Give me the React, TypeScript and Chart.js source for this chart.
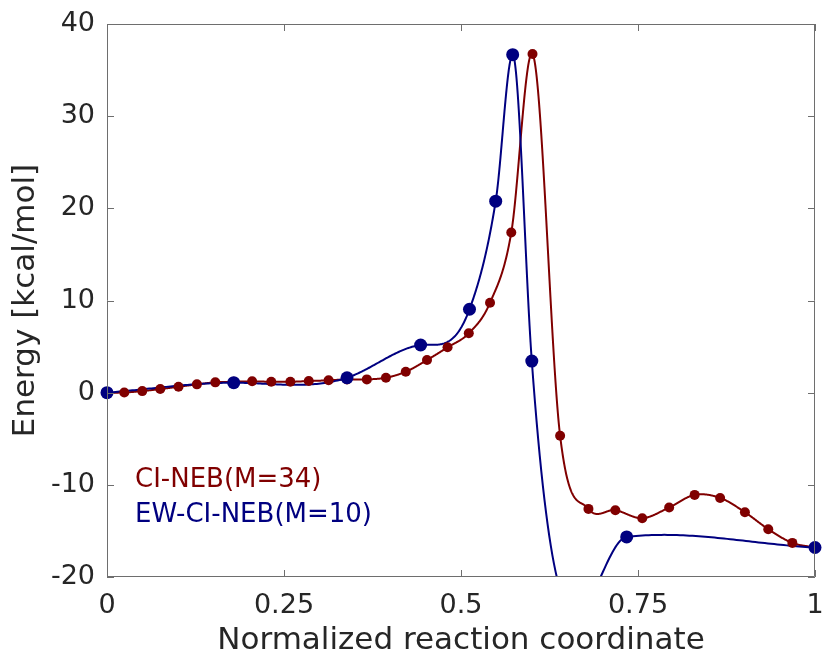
import React, { useEffect, useRef } from 'react';
import { Chart, registerables } from 'chart.js';

Chart.register(...registerables);

// ---- data ----
const ciNebX = [0, 0.0244, 0.0498, 0.0752, 0.101, 0.127, 0.153, 0.179, 0.205, 0.232, 0.259, 0.285, 0.313, 0.339, 0.367, 0.394, 0.422, 0.452, 0.481, 0.511, 0.541, 0.571, 0.601, 0.64, 0.68, 0.718, 0.756, 0.794, 0.83, 0.866, 0.901, 0.934, 0.968, 1.0];
const ciNebE = [0, 0.02, 0.17, 0.39, 0.64, 0.9, 1.12, 1.18, 1.23, 1.18, 1.18, 1.26, 1.34, 1.44, 1.44, 1.62, 2.27, 3.54, 4.92, 6.44, 9.76, 17.37, 36.74, -4.68, -12.61, -12.75, -13.62, -12.46, -11.09, -11.42, -12.97, -14.81, -16.3, -16.8];
const ewNebX = [0, 0.179, 0.339, 0.443, 0.512, 0.549, 0.573, 0.6, 0.734, 1.0];
const ewNebE = [0, 1.08, 1.62, 5.17, 9.05, 20.78, 36.67, 3.43, -15.65, -16.8];
// curve slopes dE/dx at the EW-CI-NEB images
const ewNebSlope = [6, 0, 25, 10, 210, 480, 0, -1050, 9, -4];
const xTicks = [0, 0.25, 0.5, 0.75, 1];
const yTicks = [-20, -10, 0, 10, 20, 30, 40];
const seriesLabels = ['CI-NEB(M=34)', 'EW-CI-NEB(M=10)'];
const seriesColors = ['#800000', '#000080'];
const xTitle = 'Normalized reaction coordinate';
const yTitle = 'Energy [kcal/mol]';

const FONT = '"DejaVu Sans", sans-serif';
const TEXT = '#262626';
const AXIS = '#6e6e6e';

// tangents for a cubic Hermite curve: given slopes, else three-point parabolic estimate
function tangents(xs: number[], ys: number[], given?: number[]): number[] {
  if (given) return given.slice();
  const n = xs.length;
  const h = xs.slice(1).map((v, i) => v - xs[i]);
  const d = h.map((hv, i) => (ys[i + 1] - ys[i]) / hv);
  const m = new Array(n).fill(0);
  m[0] = d[0];
  m[n - 1] = d[n - 2];
  for (let i = 1; i < n - 1; i++) {
    m[i] = (h[i] * d[i - 1] + h[i - 1] * d[i]) / (h[i - 1] + h[i]);
  }
  return m;
}

const curvePlugin = {
  id: 'smoothCurves',
  beforeDatasetsDraw(chart: any) {
    const { ctx, chartArea, scales } = chart;
    const xs = scales.x, ys = scales.y;
    ctx.save();
    ctx.beginPath();
    ctx.rect(chartArea.left, chartArea.top, chartArea.right - chartArea.left, chartArea.bottom - chartArea.top);
    ctx.clip();
    chart.data.datasets.forEach((ds: any) => {
      const px = ds.data.map((p: any) => p.x);
      const py = ds.data.map((p: any) => p.y);
      const m = tangents(px, py, ds.slopes);
      ctx.beginPath();
      ctx.strokeStyle = ds.borderColor;
      ctx.lineWidth = 2;
      ctx.lineJoin = 'round';
      let first = true;
      for (let i = 0; i < px.length - 1; i++) {
        const h = px[i + 1] - px[i];
        const steps = 60;
        for (let s = 0; s <= steps; s++) {
          const t = s / steps;
          const t2 = t * t, t3 = t2 * t;
          const h00 = 2 * t3 - 3 * t2 + 1;
          const h10 = t3 - 2 * t2 + t;
          const h01 = -2 * t3 + 3 * t2;
          const h11 = t3 - t2;
          const yv = h00 * py[i] + h10 * h * m[i] + h01 * py[i + 1] + h11 * h * m[i + 1];
          const X = xs.getPixelForValue(px[i] + h * t);
          const Y = ys.getPixelForValue(yv);
          if (first) { ctx.moveTo(X, Y); first = false; } else ctx.lineTo(X, Y);
        }
      }
      ctx.stroke();
    });
    ctx.restore();
  },
};

const framePlugin = {
  id: 'frame',
  afterDraw(chart: any) {
    const { ctx, chartArea: a, scales } = chart;
    ctx.save();
    ctx.strokeStyle = AXIS;
    ctx.lineWidth = 1;
    ctx.beginPath();
    ctx.rect(a.left + 0.5, a.top + 0.5, a.right - a.left - 1, a.bottom - a.top - 1);
    const tl = 7;
    xTicks.forEach((v) => {
      const X = Math.round(scales.x.getPixelForValue(v)) + 0.5;
      ctx.moveTo(X, a.bottom); ctx.lineTo(X, a.bottom - tl);
      ctx.moveTo(X, a.top); ctx.lineTo(X, a.top + tl);
    });
    yTicks.forEach((v) => {
      const Y = Math.round(scales.y.getPixelForValue(v)) + 0.5;
      ctx.moveTo(a.left, Y); ctx.lineTo(a.left + tl, Y);
      ctx.moveTo(a.right, Y); ctx.lineTo(a.right - tl, Y);
    });
    ctx.stroke();
    // series labels
    ctx.font = `26px ${FONT}`;
    ctx.textBaseline = 'alphabetic';
    ctx.textAlign = 'left';
    seriesLabels.forEach((t, i) => {
      ctx.fillStyle = seriesColors[i];
      ctx.fillText(t, a.left + 28, a.bottom - 90 + i * 35);
    });
    ctx.restore();
  },
};

export default function App() {
  const ref = useRef<HTMLCanvasElement>(null);
  useEffect(() => {
    if (!ref.current) return;
    const chart = new Chart(ref.current, {
      type: 'scatter',
      data: {
        datasets: [
          {
            label: seriesLabels[0],
            data: ciNebX.map((x, i) => ({ x, y: ciNebE[i] })),
            borderColor: seriesColors[0],
            backgroundColor: seriesColors[0],
            pointRadius: 5,
            pointBorderWidth: 0,
            showLine: false,
            clip: false as any,
            order: 0,
          },
          {
            label: seriesLabels[1],
            data: ewNebX.map((x, i) => ({ x, y: ewNebE[i] })),
            slopes: ewNebSlope,
            borderColor: seriesColors[1],
            backgroundColor: seriesColors[1],
            pointRadius: 6.5,
            pointBorderWidth: 0,
            showLine: false,
            clip: false as any,
            order: -1,
          } as any,
        ],
      },
      options: {
        responsive: false,
        animation: false,
        devicePixelRatio: 1,
        layout: { padding: { left: 0, right: 7, top: 24, bottom: 0 } },
        plugins: { legend: { display: false }, tooltip: { enabled: false } },
        scales: {
          x: {
            type: 'linear',
            min: 0,
            max: 1,
            afterBuildTicks: (s: any) => { s.ticks = xTicks.map((v) => ({ value: v })); },
            afterFit: (s: any) => { s.height = 77; s.paddingLeft = 0; s.paddingRight = 0; },
            grid: { display: false, drawTicks: false },
            border: { display: false },
            ticks: { font: { family: FONT, size: 27 }, color: TEXT, padding: 13, maxRotation: 0, autoSkip: false, callback: (v: any) => String(v) },
            title: { display: true, text: xTitle, font: { family: FONT, size: 31 }, color: TEXT, padding: { top: 0, bottom: -6 } },
          },
          y: {
            type: 'linear',
            min: -20,
            max: 40,
            afterBuildTicks: (s: any) => { s.ticks = yTicks.map((v) => ({ value: v })); },
            afterFit: (s: any) => { s.width = 107; s.paddingTop = 0; s.paddingBottom = 0; },
            grid: { display: false, drawTicks: false },
            border: { display: false },
            ticks: { font: { family: FONT, size: 27 }, color: TEXT, padding: 12, autoSkip: false, callback: (v: any) => String(v) },
            title: { display: true, text: yTitle, font: { family: FONT, size: 31 }, color: TEXT, padding: { top: 7, bottom: 0 } },
          },
        },
      },
      plugins: [curvePlugin, framePlugin],
    });
    return () => chart.destroy();
  }, []);
  return (
    <div style={{ position: 'absolute', left: 0, top: 0, width: 822, height: 654, background: '#fff' }}>
      <canvas ref={ref} width={822} height={654} />
    </div>
  );
}
